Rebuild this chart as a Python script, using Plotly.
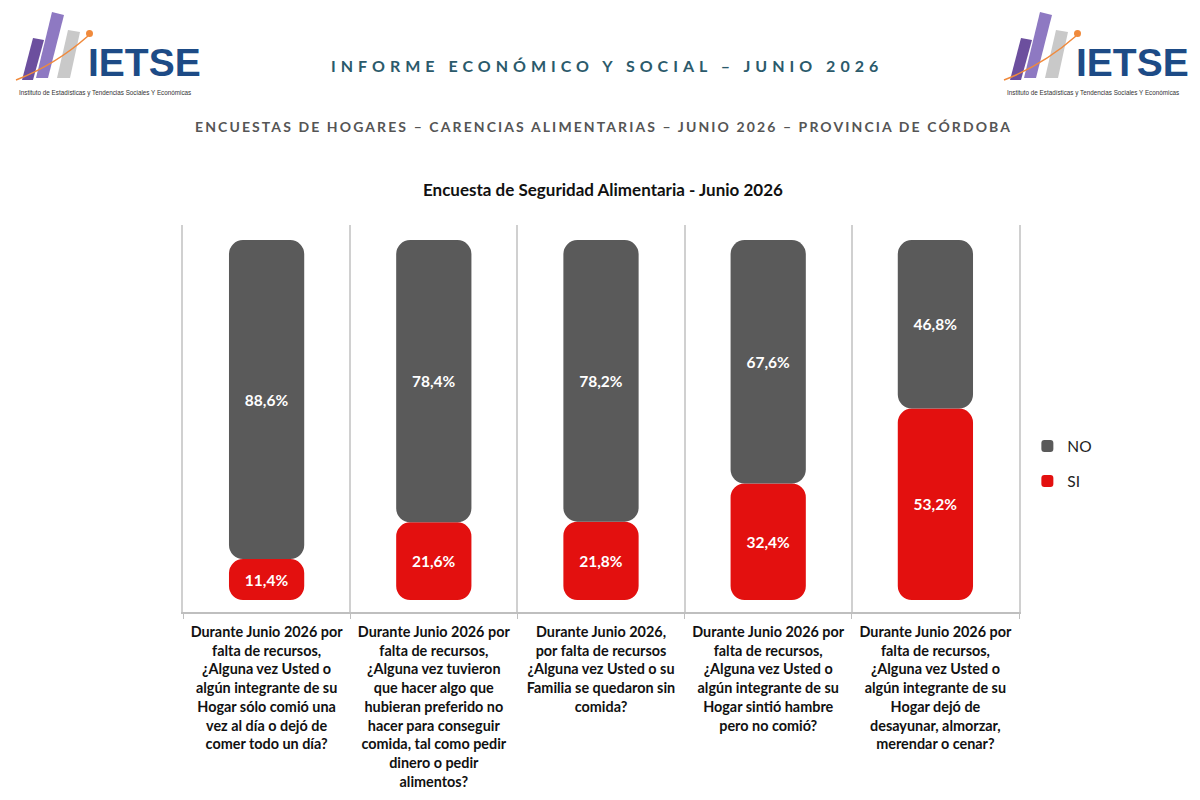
import plotly.graph_objects as go

categories = [
    "Durante Junio 2026 por<br>falta de recursos,<br>¿Alguna vez Usted o<br>algún integrante de su<br>Hogar sólo comió una<br>vez al día o dejó de<br>comer todo un día?",
    "Durante Junio 2026 por<br>falta de recursos,<br>¿Alguna vez tuvieron<br>que hacer algo que<br>hubieran preferido no<br>hacer para conseguir<br>comida, tal como pedir<br>dinero o pedir<br>alimentos?",
    "Durante Junio 2026,<br>por falta de recursos<br>¿Alguna vez Usted o su<br>Familia se quedaron sin<br>comida?",
    "Durante Junio 2026 por<br>falta de recursos,<br>¿Alguna vez Usted o<br>algún integrante de su<br>Hogar sintió hambre<br>pero no comió?",
    "Durante Junio 2026 por<br>falta de recursos,<br>¿Alguna vez Usted o<br>algún integrante de su<br>Hogar dejó de<br>desayunar, almorzar,<br>merendar o cenar?",
]
si_values = [11.4, 21.6, 21.8, 32.4, 53.2]
no_values = [88.6, 78.4, 78.2, 67.6, 46.8]

GRAY = "#5a5a5a"
RED = "#e3100f"
FONT = "Lato"

x = list(range(len(categories)))

fig = go.Figure()
# SI drawn downward from its top so the rounded end sits at the bottom of the cylinder
fig.add_trace(go.Bar(
    x=x, y=[-v for v in si_values], base=si_values, customdata=si_values, name="SI",
    legendrank=2, legendgroup="si",
    marker=dict(color=RED, line=dict(width=0), cornerradius=14),
    texttemplate="<b>%{customdata:.1f}%</b>", textposition="inside", insidetextanchor="middle",
    textfont=dict(color="white", size=15.5, family=FONT), width=0.45,
))
fig.add_trace(go.Bar(
    x=x, y=no_values, base=si_values, customdata=no_values, name="NO",
    legendrank=1, legendgroup="no",
    marker=dict(color=GRAY, line=dict(width=0), cornerradius=14),
    texttemplate="<b>%{customdata:.1f}%</b>", textposition="inside", insidetextanchor="middle",
    textfont=dict(color="white", size=15.5, family=FONT), width=0.45,
))

# plot area in pixels
L, R, T, B = 183, 1019, 225, 612
W, H = 1200, 800

def px(xp):
    return (xp - L) / (R - L)

def py(yp):
    return (B - yp) / (B - T)

shapes = []
annotations = []

def logo(ox):
    def poly(pts, color):
        d = "M " + " L ".join(f"{px(a+ox):.5f},{py(b):.5f}" for a, b in pts) + " Z"
        shapes.append(dict(type="path", path=d, xref="paper", yref="paper",
                           fillcolor=color, line=dict(width=0), layer="above"))
    poly([(22, 80), (33, 80), (44, 40), (33, 38)], "#6c4f9e")
    poly([(36, 78), (48, 78), (64, 15), (52, 12)], "#8e79c2")
    poly([(57, 78), (70, 78), (80, 32), (68, 30)], "#c9c9c9")
    d = f"M {px(16+ox):.5f},{py(80):.5f} Q {px(55+ox):.5f},{py(65):.5f} {px(88+ox):.5f},{py(36):.5f}"
    shapes.append(dict(type="path", path=d, xref="paper", yref="paper",
                       line=dict(color="#f08a3c", width=1.5), layer="above"))
    shapes.append(dict(type="circle", xref="paper", yref="paper",
                       x0=px(86+ox), x1=px(93+ox), y0=py(37), y1=py(30),
                       fillcolor="#f08a3c", line=dict(width=0)))
    annotations.append(dict(text="<b>IETSE</b>", x=px(86+ox), y=py(63), xref="paper", yref="paper",
                            xanchor="left", yanchor="middle", showarrow=False,
                            font=dict(family="Liberation Sans", size=39, color="#1d4b86")))
    annotations.append(dict(text="Instituto de Estadísticas y Tendencias Sociales Y Económicas",
                            x=px(17+ox), y=py(93), xref="paper", yref="paper",
                            xanchor="left", yanchor="middle", showarrow=False,
                            font=dict(family="Liberation Sans", size=6.3, color="#333333")))

logo(0)
logo(988)

annotations.append(dict(
    text='<span style="letter-spacing:5px"><b>INFORME ECONÓMICO Y SOCIAL – JUNIO 2026</b></span>',
    x=px(607), y=py(66), xref="paper", yref="paper", showarrow=False,
    xanchor="center", yanchor="middle",
    font=dict(family=FONT, size=16, color="#2b5a6b")))
annotations.append(dict(
    text='<span style="letter-spacing:2.1px"><b>ENCUESTAS DE HOGARES – CARENCIAS ALIMENTARIAS – JUNIO 2026 – PROVINCIA DE CÓRDOBA</b></span>',
    x=px(603), y=py(126), xref="paper", yref="paper", showarrow=False,
    xanchor="center", yanchor="middle",
    font=dict(family=FONT, size=14, color="#555555")))
annotations.append(dict(
    text="<b>Encuesta de Seguridad Alimentaria - Junio 2026</b>",
    x=px(603), y=py(189), xref="paper", yref="paper", showarrow=False,
    xanchor="center", yanchor="middle",
    font=dict(family=FONT, size=17, color="#111111")))

fig.update_layout(
    width=W, height=H,
    barmode="overlay",
    separators=",.",
    paper_bgcolor="white", plot_bgcolor="white",
    margin=dict(l=L, r=W - R, t=T, b=H - B, autoexpand=False),
    font=dict(family=FONT, color="#111111"),
    shapes=shapes, annotations=annotations,
    legend=dict(x=1.010, y=0.472, xanchor="left", yanchor="top",
                traceorder="grouped", font=dict(size=15.5, color="#222222", family=FONT),
                itemwidth=30, tracegroupgap=12),
    xaxis=dict(range=[-0.5, 4.5], tickmode="array", tickvals=x, ticktext=[f"<b>{c}</b>" for c in categories],
               tickfont=dict(size=14.4, color="#111111", family=FONT), ticks="", showgrid=False,
               ticklabelstandoff=6,
               showline=True, linecolor="#bfbfbf", linewidth=1.5, zeroline=False,
               minor=dict(tick0=0.5, dtick=1, showgrid=True, gridcolor="#d0d0d0", gridwidth=1.5,
                          ticks="outside", ticklen=5, tickcolor="#bfbfbf")),
    yaxis=dict(range=[-3.3, 104.2], showticklabels=False, showgrid=False, zeroline=False,
               showline=True, mirror=True, linecolor="#d0d0d0", linewidth=1.5, ticks=""),
)

fig.write_html("out.html")
